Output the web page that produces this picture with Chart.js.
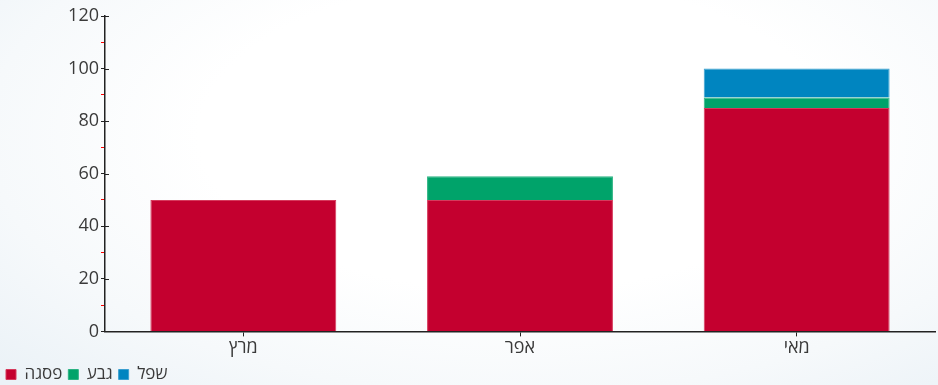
<!DOCTYPE html>
<html>
<head>
<meta charset="utf-8">
<script src="https://cdn.jsdelivr.net/npm/chart.js@4"></script>
<style>
  html, body { margin: 0; padding: 0; }
  body {
    width: 938px; height: 385px; overflow: hidden;
    background: radial-gradient(ellipse 75% 90% at 55% 35%, #ffffff 45%, #f6f9fb 75%, #ebf2f7 100%);
  }
  #wrap { width: 938px; height: 385px; }
</style>
</head>
<body>
<div id="wrap"><canvas id="chart"></canvas></div>
<script>
// categories and series
const months = ['מרץ', 'אפר', 'מאי']
const pisga = [50, 50, 85]
const geva = [0, 9, 4]
const shefel = [0, 0, 11]

// major ticks also stick out right of the y axis
const axisTicks = {
	id: 'axisTicks',
	afterDraw(chart) {
		const ctx = chart.ctx
		const y = chart.scales.y
		ctx.save()
		ctx.lineWidth = 1
		ctx.strokeStyle = '#222'
		for (let v = 0; v <= 120; v += 20) {
			const py = Math.round(y.getPixelForValue(v)) + 0.5
			ctx.beginPath()
			ctx.moveTo(y.right, py)
			ctx.lineTo(y.right + 4, py)
			ctx.stroke()
		}
		ctx.restore()
	}
}

const data = {
	labels: months,
	datasets: [
		{
			label: 'פסגה',
			backgroundColor: '#c4002f',
			borderColor: '#d63a5c',
			borderWidth: 1,
			data: pisga
		},
		{
			label: 'גבע',
			backgroundColor: '#00a36a',
			borderColor: '#2bb382',
			borderWidth: 1,
			data: geva
		},
		{
			label: 'שפל',
			backgroundColor: '#0085c0',
			borderColor: '#3a9fd0',
			borderWidth: 1,
			data: shefel
		}
	]
}

const tickFont = { family: 'Open Sans', size: 18 }

const config = {
	type: 'bar',
	data: data,
	plugins: [axisTicks],
	options: {
		responsive: false,
		animation: false,
		layout: { padding: { top: 16, right: 3, left: 0, bottom: -8 } },
		datasets: {
			bar: { categoryPercentage: 0.8, barPercentage: 0.84 }
		},
		scales: {
			x: {
				stacked: true,
				grid: {
					display: true,
					drawOnChartArea: false,
					tickLength: 5,
					tickColor: '#222',
					offset: false,
					color: '#222'
				},
				border: { color: '#222', width: 1.5 },
				ticks: {
					color: '#3a3a3a',
					font: tickFont,
					padding: 1
				}
			},
			y: {
				stacked: true,
				min: 0,
				max: 120,
				afterFit: s => { s.width = 105 },
				grid: {
					drawOnChartArea: false,
					tickLength: 4,
					tickColor: c => (c.tick && c.tick.value % 20 === 0) ? '#222' : '#ff0000'
				},
				border: { color: '#222', width: 1.5 },
				ticks: {
					stepSize: 10,
					color: '#3a3a3a',
					font: tickFont,
					padding: 2,
					callback: v => v % 20 === 0 ? v : ''
				}
			}
		},
		plugins: {
			legend: {
				position: 'bottom',
				align: 'start',
				labels: {
					boxWidth: 10,
					boxHeight: 10,
					padding: 6,
					color: '#3a3a3a',
					font: { family: 'Open Sans', size: 17 }
				}
			},
			tooltip: { enabled: false }
		}
	}
}

const canvas = document.getElementById('chart')
canvas.width = 938
canvas.height = 385
new Chart(canvas, config)
</script>
</body>
</html>
